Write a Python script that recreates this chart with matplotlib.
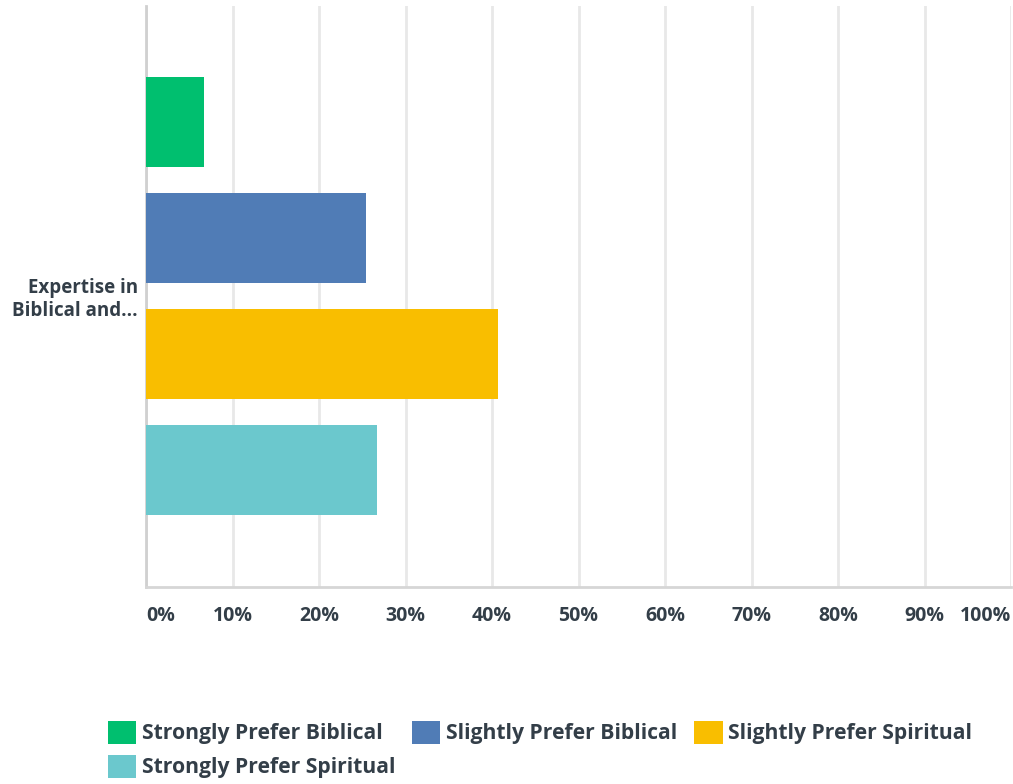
import matplotlib.pyplot as plt
from matplotlib.patches import Patch

# data
category = 'Expertise in\nBiblical and...'
labels = ['Strongly Prefer Biblical', 'Slightly Prefer Biblical',
          'Slightly Prefer Spiritual', 'Strongly Prefer Spiritual']
values = [6.7, 25.4, 40.7, 26.7]
colors = ['#00bf6f', '#507cb6', '#f9be00', '#6bc8cd']
xticks = [0, 10, 20, 30, 40, 50, 60, 70, 80, 90, 100]
xtick_labels = ['{}%'.format(t) for t in xticks]

text_color = '#333e48'
plt.rcParams['font.family'] = ['Open Sans', 'DejaVu Sans']

fig = plt.figure(figsize=(10.13, 7.84), dpi=100)
ax = fig.add_axes([146 / 1013, 197 / 784, 865 / 1013, 581 / 784])

pos = list(range(len(values)))
ax.barh(pos, values, height=90 / 116, color=colors, zorder=3)

ax.set_xlim(0, 100)
ax.set_ylim(4.009, -1.0)

ax.set_xticks(xticks)
ax.set_xticklabels(xtick_labels)
ticklabs = ax.get_xticklabels()
ticklabs[0].set_ha('left')
ticklabs[-1].set_ha('right')
ax.tick_params(axis='x', length=0, pad=14, labelsize=14, labelcolor=text_color)
for t in ticklabs:
    t.set_fontweight('bold')

ax.set_yticks([1.5])
ax.set_yticklabels([category], ha='right', fontweight='bold')
ax.tick_params(axis='y', length=0, pad=6, labelsize=13.5, labelcolor=text_color)

ax.grid(axis='x', color='#e8e8e8', linewidth=2, zorder=0)
for s in ['top', 'right']:
    ax.spines[s].set_visible(False)
ax.spines['left'].set_color('#d0d0d0')
ax.spines['left'].set_linewidth(2)
ax.spines['bottom'].set_color('#d6d6d6')
ax.spines['bottom'].set_linewidth(2)

# legend (order so that column-wise fill gives row-wise reading)
handles = [Patch(facecolor=c, edgecolor='none') for c in colors]
order = [0, 3, 1, 2]
leg = fig.legend([handles[i] for i in order], [labels[i] for i in order],
                 ncol=3, loc='upper left', bbox_to_anchor=(97 / 1013, 1 - 710 / 784),
                 frameon=False, borderpad=0, handlelength=1.35, handleheight=1.35,
                 handletextpad=0.28, columnspacing=0.78, labelspacing=0.48,
                 prop={'size': 15.2, 'weight': 'bold'})
for t in leg.get_texts():
    t.set_color(text_color)

fig.savefig('out.png', dpi=100)
